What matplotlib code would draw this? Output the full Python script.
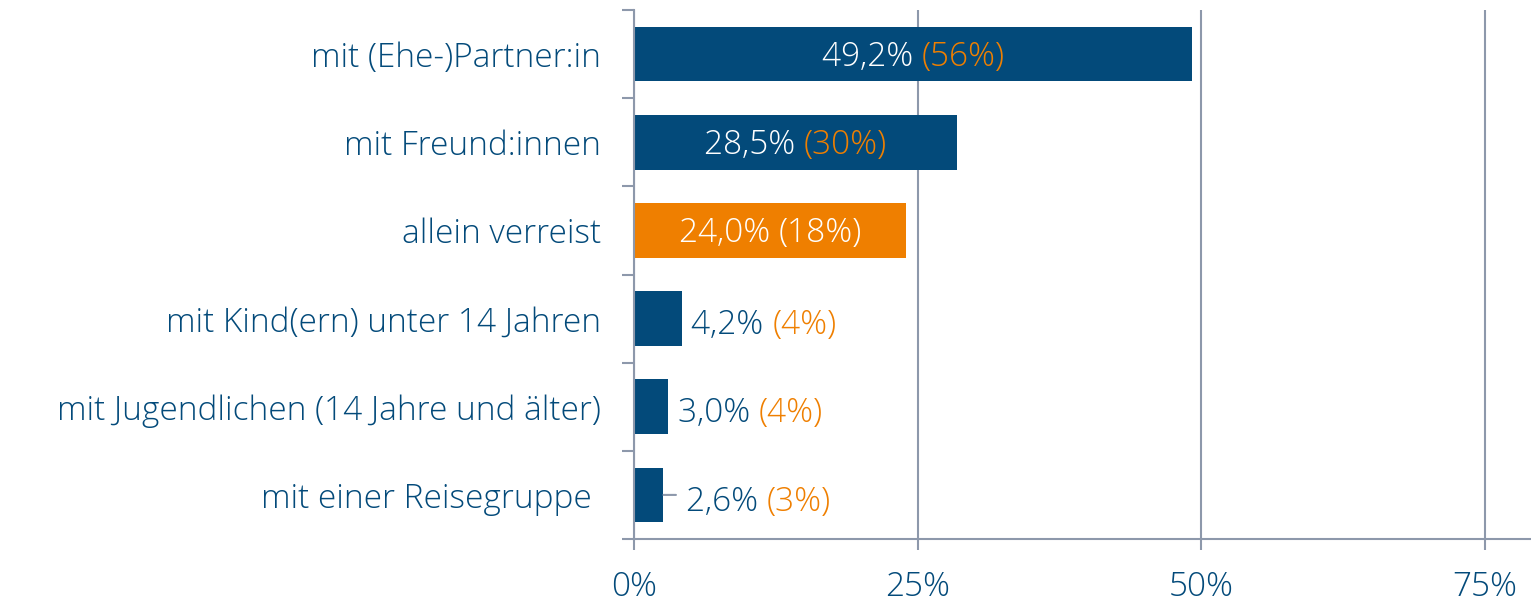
import matplotlib
matplotlib.use("Agg")
import matplotlib.pyplot as plt
import numpy as np

categories = [
    "mit (Ehe-)Partner:in",
    "mit Freund:innen",
    "allein verreist",
    "mit Kind(ern) unter 14 Jahren",
    "mit Jugendlichen (14 Jahre und älter)",
    "mit einer Reisegruppe ",
]
values = [49.2, 28.5, 24.0, 4.2, 3.0, 2.6]
value_labels = ["49,2%", "28,5%", "24,0%", "4,2%", "3,0%", "2,6%"]
compare_labels = ["(56%)", "(30%)", "(18%)", "(4%)", "(4%)", "(3%)"]
highlight = [False, False, True, False, False, False]
inside = [True, True, True, False, False, False]
xticks = [0, 25, 50, 75]
xtick_labels = ["0%", "25%", "50%", "75%"]

BLUE = "#034a7a"
ORANGE = "#ef7f00"
GRID = "#8d98ab"
FONT = "Open Sans"
FS = 24
FW = "light"

plt.rcParams["font.family"] = [FONT, "DejaVu Sans"]

W, H = 1531, 603
fig = plt.figure(figsize=(W / 100, H / 100), dpi=100)
ax = fig.add_axes([634 / W, 1 - 539 / H, (1531 - 634) / W, (539 - 10) / H])

y = np.arange(len(categories))
colors = [ORANGE if h else BLUE for h in highlight]
bars = ax.barh(y, values, height=0.62, color=colors, zorder=3)

ax.set_ylim(len(categories) - 0.5, -0.5)
ax.set_xlim(0, 79.1)

ax.set_xticks(xticks)
ax.set_xticklabels(xtick_labels)
ax.set_yticks(y)
ax.set_yticklabels(categories)
ax.set_yticks(np.arange(-0.5, len(categories), 1), minor=True)

ax.tick_params(axis="y", which="major", length=0, pad=24, labelsize=FS, labelcolor=BLUE)
ax.tick_params(axis="y", which="minor", length=9, width=1.5, color=GRID, direction="out")
ax.tick_params(axis="x", which="major", length=8, width=1.5, color=GRID, pad=15,
               labelsize=FS, labelcolor=BLUE)
for lab in ax.get_xticklabels() + ax.get_yticklabels():
    lab.set_fontweight(FW)

ax.grid(axis="x", color=GRID, linewidth=1.5, zorder=1)
for s in ["top", "right"]:
    ax.spines[s].set_visible(False)
for s in ["left", "bottom"]:
    ax.spines[s].set_color(GRID)
    ax.spines[s].set_linewidth(1.5)
    ax.spines[s].set_zorder(4)

for i, (v, vl, cl) in enumerate(zip(values, value_labels, compare_labels)):
    full = vl + " " + cl
    if inside[i]:
        c1 = "white"
        c2 = "white" if highlight[i] else ORANGE
        ref = ax.annotate(full, xy=(v / 2, i), xytext=(0, -2),
                          textcoords="offset points", ha="center", va="center",
                          fontsize=FS, fontweight=FW, alpha=0)
    else:
        c1 = BLUE
        c2 = ORANGE
        ref = ax.annotate(full, xy=(v, i), xytext=(7 if i != 5 else 16, -5),
                          textcoords="offset points", ha="left", va="center",
                          fontsize=FS, fontweight=FW, alpha=0)
        if i == 5:
            ax.annotate("", xy=(v, i), xytext=(v + 1.1, i),
                        arrowprops=dict(arrowstyle="-", color=GRID, lw=1.5,
                                        shrinkA=0, shrinkB=0))
    t1 = ax.annotate(vl + " ", xy=(0, 0), xycoords=ref, ha="left", va="bottom",
                     fontsize=FS, fontweight=FW, color=c1, zorder=5)
    ax.annotate(cl, xy=(1, 0), xycoords=t1, ha="left", va="bottom",
                fontsize=FS, fontweight=FW, color=c2, zorder=5)

fig.savefig("out.png", dpi=100)
